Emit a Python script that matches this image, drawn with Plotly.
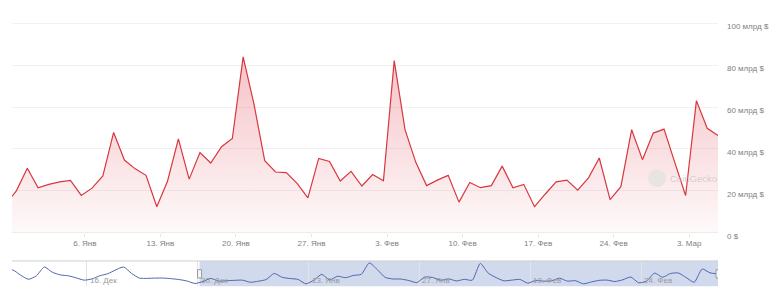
import pandas as pd
import plotly.graph_objects as go

# ---- data (billions USD, daily trading volume) ----
hist_values = [55, 60, 42, 28, 40, 70, 52, 43, 40, 33, 25, 29, 40, 47, 60, 70,
               48, 32, 31, 32, 32, 30, 27, 22, 13.5]          # Dec 5 .. Dec 29
values = [20.1, 30.8, 21.5, 23.1, 24.3, 25.0, 17.8, 21.3, 27.1, 47.9,
          34.7, 30.5, 27.4, 12.4, 24.7, 44.8, 25.6, 38.3, 33.3, 41.1,
          45.0, 84.0, 61.5, 34.4, 29.0, 28.7, 23.6, 16.6, 35.5, 34.0,
          24.7, 29.3, 22.3, 27.8, 24.8, 82.2, 49.2, 33.6, 22.5, 25.1,
          27.4, 14.6, 24.0, 21.5, 22.5, 31.8, 21.5, 23.1, 12.4, 18.5,
          24.3, 25.1, 20.3, 26.2, 35.7, 15.8, 22.0, 49.2, 34.9, 47.6,
          49.5, 33.5, 17.8, 63.1, 49.9, 46.4]                  # Dec 30 .. Mar 5
hist_dates = pd.date_range("2024-12-05 16:00", periods=len(hist_values), freq="D")
dates = pd.date_range("2024-12-30 16:00", periods=len(values), freq="D")

main_range = ["2024-12-30 06:00", "2025-03-05 16:00"]
nav_range = ["2024-12-06 14:00", "2025-03-05 16:00"]

x_tickvals = ["2025-01-06", "2025-01-13", "2025-01-20", "2025-01-27", "2025-02-03",
              "2025-02-10", "2025-02-17", "2025-02-24", "2025-03-03"]
x_ticktext = ["6. Янв", "13. Янв", "20. Янв", "27. Янв", "3. Фев",
              "10. Фев", "17. Фев", "24. Фев", "3. Мар"]
y_tickvals = [0, 20, 40, 60, 80, 100]
y_ticktext = ["0 $", "20 млрд $", "40 млрд $", "60 млрд $", "80 млрд $", "100 млрд $"]
nav_tickvals = ["2024-12-16", "2024-12-30", "2025-01-13", "2025-01-27", "2025-02-10", "2025-02-24"]
nav_ticktext = ["16. Дек", "30. Дек", "13. Янв", "27. Янв", "10. Фев", "24. Фев"]

all_dates = list(hist_dates) + list(dates)
all_values = hist_values + values
main_dates = [hist_dates[-1]] + list(dates)
main_values = [hist_values[-1]] + values

W, H = 775, 304
FONT = "Liberation Sans, Arial, sans-serif"

fig = go.Figure()
fig.add_trace(go.Scatter(
    x=main_dates, y=main_values, mode="lines",
    line=dict(color="#d8373e", width=1.2),
    fill="tozeroy",
    fillgradient=dict(type="vertical", start=0, stop=85,
                      colorscale=[[0, "rgba(220,53,69,0.02)"], [1, "rgba(220,53,69,0.30)"]]),
    xaxis="x", yaxis="y", hoverinfo="skip", showlegend=False))
fig.add_trace(go.Scatter(
    x=all_dates, y=all_values, mode="lines",
    line=dict(color="#5066ad", width=1, shape="spline", smoothing=0.6),
    xaxis="x2", yaxis="y2", hoverinfo="skip", showlegend=False))

xl, xr = 12 / W, 718 / W

def py(p):
    return (H - p) / H

nav_labels = [dict(text=t, xref="x2", yref="paper", x=v, y=py(288.5), xanchor="left",
                   yanchor="middle", xshift=1, showarrow=False,
                   font=dict(family=FONT, size=8, color="#999"))
              for v, t in zip(nav_tickvals, nav_ticktext)]

fig.update_layout(
    width=W, height=H, margin=dict(l=0, r=0, t=0, b=0),
    paper_bgcolor="white", plot_bgcolor="white",
    font=dict(family=FONT, size=8, color="#808080"),
    xaxis=dict(domain=[xl, xr], type="date", range=main_range,
               tickvals=x_tickvals, ticktext=x_ticktext,
               showgrid=False, zeroline=False, showline=False,
               ticks="outside", ticklen=3, tickcolor="#e6e6e6",
               tickfont=dict(size=8, color="#808080")),
    yaxis=dict(domain=[py(239), py(239 - 101 * 2.15)], range=[0, 101],
               side="right", tickvals=y_tickvals, ticktext=y_ticktext,
               showgrid=True, gridcolor="#f1f1f1", gridwidth=1,
               zeroline=True, zerolinecolor="#eeeeee", zerolinewidth=1,
               showline=False, ticks="", ticklabelstandoff=8, ticklabelshift=3,
               tickfont=dict(size=8, color="#808080")),
    xaxis2=dict(domain=[xl, xr], type="date", range=nav_range, anchor="y2",
                tickvals=nav_tickvals, showticklabels=False,
                showgrid=True, gridcolor="#e3e3e3", gridwidth=1,
                zeroline=False, showline=False, ticks=""),
    yaxis2=dict(domain=[py(294), py(268)], range=[4, 90.7], anchor="x2",
                showgrid=False, zeroline=False, showticklabels=False, showline=False),
    shapes=[
        # navigator selection
        dict(type="rect", xref="x2", yref="y2 domain", x0=main_range[0], x1=main_range[1],
             y0=0, y1=1, fillcolor="rgba(102,133,194,0.30)", line=dict(width=0), layer="below"),
        # navigator top outline
        dict(type="line", xref="x2 domain", yref="y2 domain", x0=0, x1=1, y0=1, y1=1,
             line=dict(color="#cfcfcf", width=1)),
        # handles
        dict(type="rect", xref="x2", xsizemode="pixel", xanchor=main_range[0], x0=-2, x1=2,
             yref="paper", y0=py(285.5), y1=py(277), fillcolor="#f7f7f7",
             line=dict(color="#999", width=1)),
        dict(type="rect", xref="x2", xsizemode="pixel", xanchor=main_range[1], x0=-2, x1=2,
             yref="paper", y0=py(285.5), y1=py(277), fillcolor="#f7f7f7",
             line=dict(color="#999", width=1)),
        # watermark logo
        dict(type="circle", xref="paper", yref="paper", x0=648 / W, x1=666 / W,
             y0=py(192), y1=py(174), fillcolor="rgba(225,225,225,0.7)", line=dict(width=0)),
    ],
    annotations=nav_labels + [
        dict(text="CoinGecko", xref="paper", yref="paper", x=668 / W, y=py(183),
             xanchor="left", yanchor="middle", showarrow=False,
             font=dict(family=FONT, size=9.5, color="rgba(200,200,200,0.8)")),
    ],
)

fig.write_html("out.html")
